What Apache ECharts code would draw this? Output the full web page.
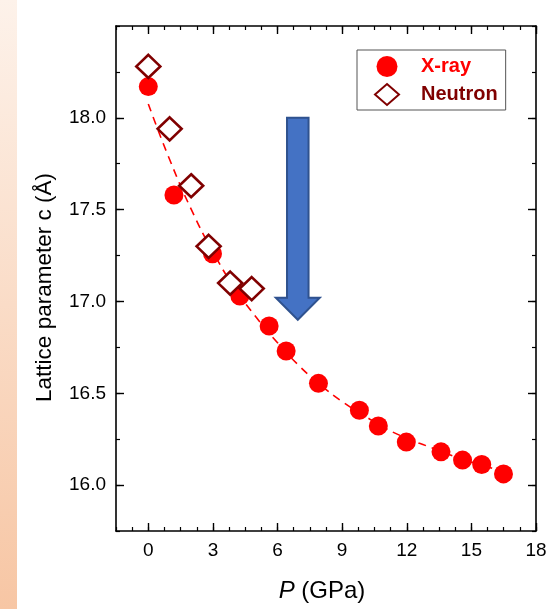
<!DOCTYPE html>
<html>
<head>
<meta charset="utf-8">
<title>Lattice parameter c vs pressure</title>
<script src="https://cdn.jsdelivr.net/npm/echarts@6/dist/echarts.min.js"></script>
<style>
  html, body { margin: 0; padding: 0; background: #ffffff; }
  #chart { width: 551px; height: 609px; }
</style>
</head>
<body>
<div id="chart"></div>
<script>
// X-ray diffraction: pressure (GPa) and lattice parameter c (Å)
const pressureXray = [0, 1.19, 2.98, 4.25, 5.61, 6.40, 7.90, 9.80, 10.68, 11.98, 13.59, 14.59, 15.48, 16.49];
const latticeXray  = [18.17, 17.58, 17.26, 17.03, 16.866, 16.73, 16.554, 16.408, 16.322, 16.234, 16.181, 16.136, 16.112, 16.061];

// Neutron diffraction
const pressureNeutron = [0, 0.99, 1.99, 2.80, 3.80, 4.80];
const latticeNeutron  = [18.28, 17.94, 17.63, 17.30, 17.10, 17.07];

// Equation-of-state fit through the X-ray data (dashed curve)
const pressureFit = [0, 1, 2, 3, 4, 5, 6, 7, 8, 9, 10, 11, 12, 13, 14, 15, 16, 16.5];
const latticeFit  = [18.075, 17.77, 17.50, 17.27, 17.075, 16.915, 16.775, 16.65, 16.545, 16.455, 16.38, 16.31, 16.255, 16.21, 16.165, 16.125, 16.09, 16.07];

// Axis ticks and labels
const xMajorTicks = [0, 3, 6, 9, 12, 15, 18];
const yMajorTicks = [16.0, 16.5, 17.0, 17.5, 18.0];
const xRange = [-1.5, 18];
const yRange = [15.75, 18.5];

// Downward arrow outline (P, c) showing the compression trend
const arrowOutline = [[6.44, 18.0], [7.44, 18.0], [7.44, 17.02], [7.96, 17.02], [6.94, 16.90], [5.92, 17.02], [6.44, 17.02]];

const FONT = "'Liberation Sans', Arial, Helvetica, sans-serif";
const XRAY_COLOR = '#ff0000';
const NEUTRON_COLOR = '#800000';

const zip = (xs, ys) => xs.map((x, i) => [x, ys[i]]);

function majorAxis(extra) {
  return Object.assign({
    type: 'value',
    splitLine: { show: false },
    axisLine: { show: true, onZero: false, lineStyle: { color: '#000', width: 1.6 } },
    axisTick: { show: true, inside: true, length: 8, lineStyle: { color: '#000', width: 1.4 } },
    axisLabel: { show: false }
  }, extra);
}
// Secondary axis that only draws the short minor ticks
function minorAxis(extra) {
  return Object.assign({
    type: 'value',
    splitLine: { show: false },
    axisLine: { show: true, onZero: false, lineStyle: { color: 'rgba(0,0,0,0)', width: 1 } },
    axisTick: { show: true, inside: true, length: 4, lineStyle: { color: '#000', width: 1.2 } },
    axisLabel: { show: false }
  }, extra);
}

const chart = echarts.init(document.getElementById('chart'), null, { renderer: 'canvas' });

chart.setOption({
  backgroundColor: '#ffffff',
  animation: false,
  textStyle: { fontFamily: FONT },
  graphic: [{
    type: 'rect',
    left: 0, top: 0, z: -10,
    shape: { width: 17, height: 609 },
    style: {
      fill: new echarts.graphic.LinearGradient(0, 0, 0, 1, [
        { offset: 0, color: '#fdf2ea' },
        { offset: 1, color: '#f7c6a4' }
      ])
    }
  }],
  grid: { left: 116, right: 15, top: 26, bottom: 78, containLabel: false, outerBoundsMode: 'none' },
  legend: {
    orient: 'vertical',
    left: 357, top: 50,
    padding: [6, 8, 4, 17],
    itemWidth: 24, itemHeight: 21, itemGap: 6,
    borderColor: '#555', borderWidth: 1, borderRadius: 0,
    backgroundColor: '#ffffff',
    textStyle: { fontSize: 20, fontWeight: 'bold', fontFamily: FONT, padding: [0, 0, 0, 17] },
    data: [
      { name: 'X-ray', textStyle: { color: XRAY_COLOR } },
      { name: 'Neutron', textStyle: { color: NEUTRON_COLOR } }
    ]
  },
  xAxis: [
    majorAxis({
      position: 'bottom', min: xRange[0], max: xRange[1],
      axisTick: { show: true, inside: true, length: 8, customValues: xMajorTicks, lineStyle: { color: '#000', width: 1.4 } },
      axisLabel: { show: true, customValues: xMajorTicks, fontSize: 19, margin: 10, color: '#000', fontFamily: FONT },
      name: '{i|P} (GPa)', nameLocation: 'middle', nameGap: 48,
      nameTextStyle: {
        fontSize: 24, color: '#000', fontFamily: FONT, padding: [0, 8, 0, 0],
        rich: { i: { fontStyle: 'italic', fontSize: 24, color: '#000', fontFamily: FONT } }
      }
    }),
    minorAxis({ position: 'bottom', min: xRange[0], max: xRange[1], interval: 0.75 }),
    majorAxis({
      position: 'top', min: xRange[0], max: xRange[1],
      axisTick: { show: true, inside: true, length: 8, customValues: xMajorTicks, lineStyle: { color: '#000', width: 1.4 } }
    }),
    minorAxis({ position: 'top', min: xRange[0], max: xRange[1], interval: 0.75 })
  ],
  yAxis: [
    majorAxis({
      position: 'left', min: yRange[0], max: yRange[1],
      axisTick: { show: true, inside: true, length: 8, customValues: yMajorTicks, lineStyle: { color: '#000', width: 1.4 } },
      axisLabel: { show: true, customValues: yMajorTicks, fontSize: 19, margin: 10, color: '#000', fontFamily: FONT,
                   formatter: (v) => Number(v).toFixed(1) },
      name: 'Lattice parameter c (Å)', nameLocation: 'middle', nameGap: 60, nameRotate: 90,
      nameTextStyle: { fontSize: 22.5, color: '#000', fontFamily: FONT, padding: [0, 18, 0, 0] }
    }),
    minorAxis({ position: 'left', min: yRange[0], max: yRange[1], interval: 0.25 }),
    majorAxis({
      position: 'right', min: yRange[0], max: yRange[1],
      axisTick: { show: true, inside: true, length: 8, customValues: yMajorTicks, lineStyle: { color: '#000', width: 1.4 } }
    }),
    minorAxis({ position: 'right', min: yRange[0], max: yRange[1], interval: 0.25 })
  ],
  series: [
    {
      name: 'fit',
      type: 'line',
      xAxisIndex: 0, yAxisIndex: 0,
      data: zip(pressureFit, latticeFit),
      smooth: true,
      showSymbol: false,
      silent: true,
      lineStyle: { color: XRAY_COLOR, width: 1.6, type: [8, 6] },
      z: 2
    },
    {
      name: 'X-ray',
      type: 'scatter',
      xAxisIndex: 0, yAxisIndex: 0,
      data: zip(pressureXray, latticeXray),
      symbol: 'circle',
      symbolSize: 19,
      itemStyle: { color: XRAY_COLOR, opacity: 1 },
      z: 3
    },
    {
      name: 'Neutron',
      type: 'scatter',
      xAxisIndex: 0, yAxisIndex: 0,
      data: zip(pressureNeutron, latticeNeutron),
      symbol: 'diamond',
      symbolSize: [24, 23],
      itemStyle: { color: '#ffffff', borderColor: NEUTRON_COLOR, borderWidth: 2.6, opacity: 1 },
      z: 4
    },
    {
      name: 'arrow',
      type: 'custom',
      xAxisIndex: 0, yAxisIndex: 0,
      silent: true,
      data: [arrowOutline[0]],
      renderItem: (params, api) => ({
        type: 'polygon',
        shape: { points: arrowOutline.map((p) => api.coord(p)) },
        style: { fill: '#4472c4', stroke: '#2f528f', lineWidth: 2 }
      }),
      z: 5
    }
  ]
});
</script>
</body>
</html>
